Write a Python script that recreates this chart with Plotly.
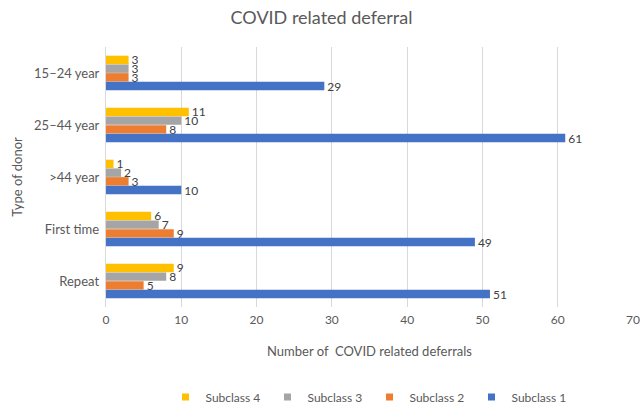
import plotly.graph_objects as go

categories = ["15\u201324 year", "25\u201344 year", ">44 year", "First time", "Repeat"]
subclass_4 = [3, 11, 1, 6, 9]
subclass_3 = [3, 10, 2, 7, 8]
subclass_2 = [3, 8, 3, 9, 5]
subclass_1 = [29, 61, 10, 49, 51]
x_ticks = [0, 10, 20, 30, 40, 50, 60, 70]

series = [
    ("Subclass 4", subclass_4, "#FFC000"),
    ("Subclass 3", subclass_3, "#A5A5A5"),
    ("Subclass 2", subclass_2, "#ED7D31"),
    ("Subclass 1", subclass_1, "#4472C4"),
]

font_family = "Lato, Carlito, 'Open Sans', sans-serif"
grey_text = "#595959"

fig = go.Figure()
for name, vals, color in series:
    fig.add_trace(go.Bar(
        y=categories, x=vals, name=name, orientation="h",
        marker=dict(color=color, line=dict(width=0)),
        text=[str(v) for v in vals], textposition="outside",
        constraintext="none",
        textfont=dict(size=12, color="#404040", family=font_family),
        cliponaxis=False, showlegend=False,
    ))

# Compact square legend keys
for name, vals, color in series:
    fig.add_trace(go.Scatter(
        x=[None], y=[None], mode="markers", name=name,
        marker=dict(symbol="square", size=7, color=color),
    ))

fig.update_layout(
    width=643, height=410,
    barmode="group", bargap=0.33, bargroupgap=0.03,
    paper_bgcolor="white", plot_bgcolor="white",
    margin=dict(l=106, r=10, t=47, b=103, autoexpand=False),
    font=dict(family=font_family, color=grey_text, size=12),
    title=dict(text="COVID related deferral", x=0.5, xanchor="center",
               y=0.958, yanchor="middle",
               font=dict(size=18, color=grey_text, family=font_family)),
    legend=dict(orientation="h", x=0.5, xanchor="center",
                yref="container", y=0.032, yanchor="middle",
                font=dict(size=12, color=grey_text), traceorder="normal",
                itemwidth=30, entrywidth=57, entrywidthmode="pixels"),
    showlegend=True,
)
fig.update_xaxes(
    range=[0, 70], tickvals=x_ticks, showgrid=True, gridcolor="#D9D9D9",
    zeroline=False, showline=False, ticks="", ticklabelstandoff=4,
    tickfont=dict(size=12, color=grey_text),
    title=dict(text="Number of  COVID related deferrals", standoff=20,
               font=dict(size=13, color=grey_text)),
)
fig.update_yaxes(
    autorange="reversed", showline=True, linecolor="#D9D9D9", ticks="",
    tickfont=dict(size=13, color=grey_text), ticksuffix=" ",
    title=dict(text="Type of donor", standoff=8, font=dict(size=13, color=grey_text)),
)

fig.write_html("out.html")
